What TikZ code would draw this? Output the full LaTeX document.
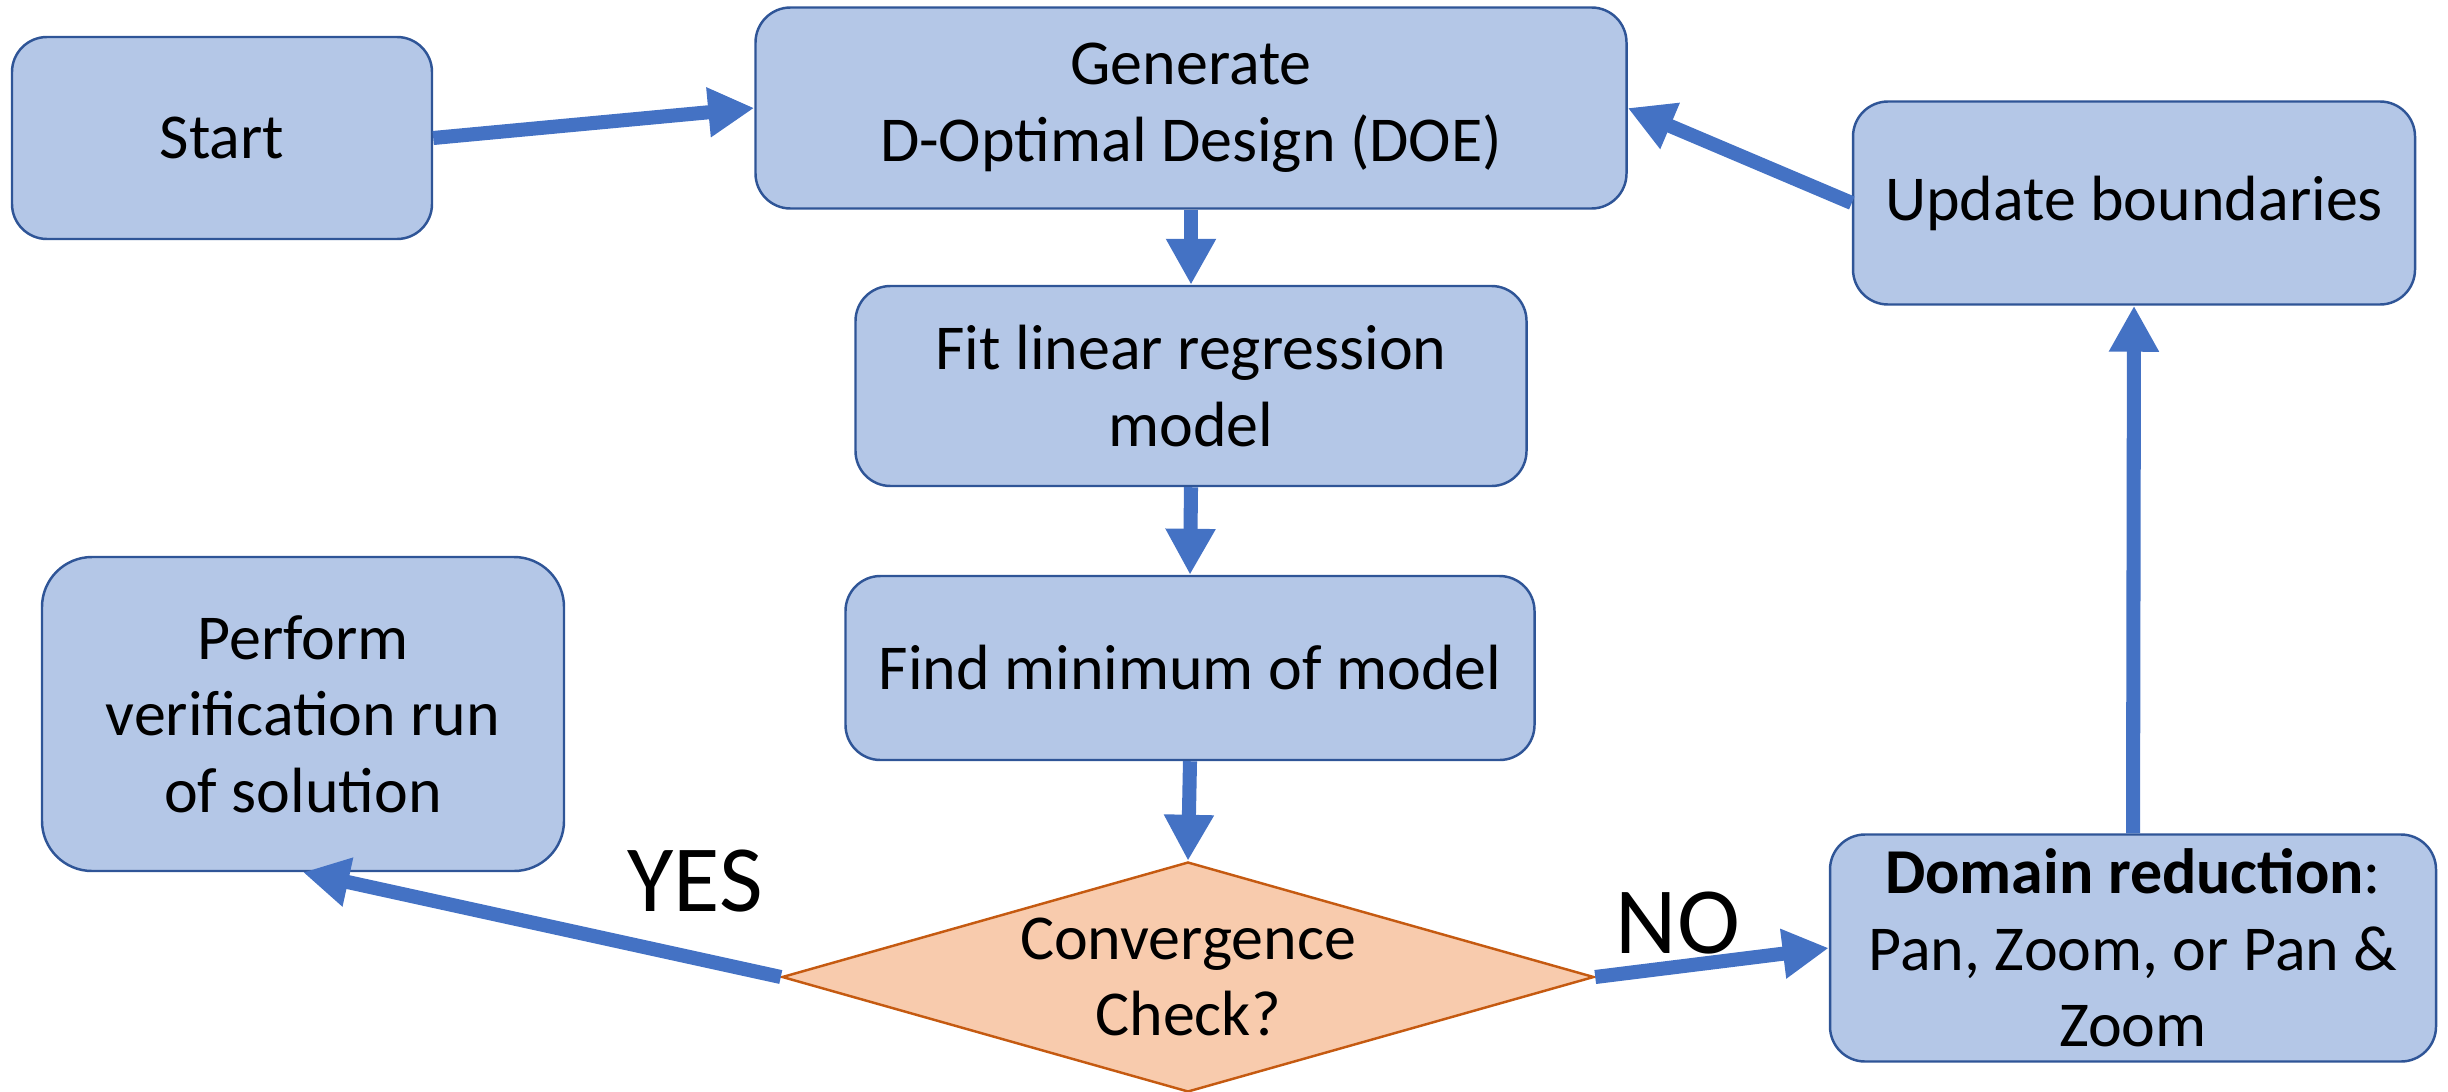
\documentclass[tikz,border=0pt]{standalone}
\usepackage{fontspec}
\setmainfont{Carlito}
\usetikzlibrary{arrows.meta, shapes.geometric}
\definecolor{boxfill}{HTML}{B4C7E7}
\definecolor{boxdraw}{HTML}{2F5597}
\definecolor{arrowblue}{HTML}{4472C4}
\definecolor{checkfill}{HTML}{F8CBAD}
\definecolor{checkdraw}{HTML}{C55A11}
\tikzset{
    every node/.style={font=\fontsize{18.2}{21.8}\selectfont},
    flowbox/.style={draw=boxdraw, fill=boxfill, line width=.7pt,
        rounded corners=.35cm, align=center, inner sep=0pt},
    checkbox/.style={diamond, draw=checkdraw, fill=checkfill, line width=.7pt,
        align=center, inner sep=0pt, aspect=3.53,
        minimum width=8.12cm, minimum height=2.30cm},
    flowarrow/.style={draw=arrowblue, line width=4pt,
        -{Triangle[length=4.6mm, width=4.7mm]}},
    answer/.style={font=\fontsize{27}{32}\selectfont},
}

\begin{document}
\begin{tikzpicture}
        \useasboundingbox (0, 0) rectangle (24.48, -10.91);
        \node[flowbox, minimum width=4.20cm, minimum height=2.02cm] (start) at (2.22, -1.38) {Start};
        \node[flowbox, minimum width=8.71cm, minimum height=2.01cm] (doe) at (11.91, -1.08) {Generate\\D-Optimal Design (DOE)};
        \node[flowbox, minimum width=5.62cm, minimum height=2.03cm] (update) at (21.34, -2.03) {Update boundaries};
        \node[flowbox, minimum width=6.71cm, minimum height=2.00cm] (fit) at (11.91, -3.86) {Fit linear regression\\model};
        \node[flowbox, minimum width=6.89cm, minimum height=1.84cm] (minimum) at (11.90, -6.68) {Find minimum of model};
        \node[flowbox, rounded corners=.5cm, minimum width=5.22cm, minimum height=3.14cm] (verify) at (3.03, -7.14) {Perform\\verification run\\of solution};
        \node[flowbox, minimum width=6.06cm, minimum height=2.27cm] (domain) at (21.33, -9.48) {\textbf{Domain reduction}:\\Pan, Zoom, or Pan \&\\Zoom};
        \node[checkbox] (check) at (11.88, -9.77) {Convergence\\Check?};
        % loop connectors
        \begin{scope}[every path/.style={flowarrow}]
            \draw (start.east) -- (doe.west);
            \draw (doe.south) -- (fit.north);
            \draw (fit.south) -- (minimum.north);
            \draw (minimum.south) -- (check.north);
            \draw (check.west) -- (verify.south);
            \draw (check.east) -- (domain.west);
            \draw (domain.north) -- (update.south);
            \draw (update.west) -- (doe.east);
        \end{scope}
        \node[answer] (yes) at (6.95, -8.81) {YES};
        \node[answer] (no) at (16.78, -9.23) {NO};
    \end{tikzpicture}
\end{document}
